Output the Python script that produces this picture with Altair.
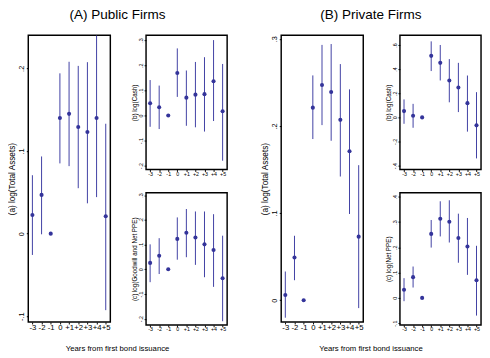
import altair as alt
import pandas as pd

periods = [-3, -2, -1, 0, 1, 2, 3, 4, 5]

# (A) Public firms
pub_assets = [0.0226, 0.0469, 0.0, 0.140, 0.145, 0.129, 0.123, 0.140, 0.0211]
pub_assets_lo = [-0.0258, -0.0008, None, 0.085, 0.0817, 0.055, 0.0367, 0.0442, -0.0926]
pub_assets_hi = [0.0707, 0.0934, None, 0.194, 0.208, 0.203, 0.2075, 0.240, 0.133]

pub_cash = [0.049, 0.033, 0.0, 0.169, 0.071, 0.083, 0.085, 0.136, 0.017]
pub_cash_lo = [-0.045, -0.054, None, 0.074, -0.041, -0.047, -0.064, -0.022, -0.180]
pub_cash_hi = [0.141, 0.119, None, 0.267, 0.179, 0.213, 0.232, 0.300, 0.205]

pub_ppe = [0.026, 0.055, 0.0, 0.123, 0.148, 0.129, 0.101, 0.078, -0.036]
pub_ppe_lo = [-0.052, -0.019, None, 0.039, 0.049, 0.018, -0.032, -0.071, -0.210]
pub_ppe_hi = [0.101, 0.126, None, 0.210, 0.244, 0.234, 0.234, 0.223, 0.136]

# (B) Private firms
prv_assets = [0.006, 0.049, 0.0, 0.221, 0.247, 0.239, 0.207, 0.171, 0.073]
prv_assets_lo = [-0.020, 0.023, None, 0.185, 0.201, 0.183, 0.142, 0.099, -0.009]
prv_assets_hi = [0.033, 0.074, None, 0.258, 0.293, 0.294, 0.271, 0.242, 0.155]

prv_cash = [0.052, 0.013, 0.0, 0.510, 0.452, 0.306, 0.248, 0.118, -0.066]
prv_cash_lo = [-0.053, -0.086, None, 0.384, 0.306, 0.125, 0.044, -0.118, -0.340]
prv_cash_hi = [0.149, 0.112, None, 0.630, 0.600, 0.483, 0.452, 0.347, 0.209]

prv_ppe = [0.032, 0.082, 0.0, 0.253, 0.313, 0.301, 0.237, 0.203, 0.070]
prv_ppe_lo = [-0.013, 0.041, None, 0.199, 0.243, 0.219, 0.139, 0.091, -0.070]
prv_ppe_hi = [0.078, 0.124, None, 0.308, 0.382, 0.386, 0.333, 0.316, 0.206]

FONT = "Liberation Sans"
DOT = "#34349a"
LINE = "#3c3ca2"

Y_LABEL = ("datum.value == 0 ? '0' : (datum.value < 0 ? '-' : '') + "
           "replace(format(abs(datum.value), '.1f'), '0.', '.')")
X_LABEL = "datum.value > 0 ? '+' + datum.value : '' + datum.value"


def panel(est, lo, hi, ytitle, domain, ticks, w, h, big):
    df = pd.DataFrame({"t": periods, "b": est, "lo": lo, "hi": hi})
    lab = 7.5 if big else 5.5
    xlab = 8 if big else 5.5
    tfs = 8.5 if big else 6.5
    xax = alt.Axis(values=periods, labelExpr=X_LABEL, title=None, grid=False,
                   domain=False, tickSize=2, labelPadding=0, labelFontSize=xlab,
                   labelFlush=False, labelOverlap=False)
    yax = alt.Axis(values=ticks, labelExpr=Y_LABEL, title=ytitle, grid=False,
                   domain=False, tickSize=2, labelPadding=1, labelFontSize=lab,
                   labelAngle=270, labelAlign="center", labelBaseline="bottom",
                   titleFontSize=tfs, titlePadding=1 if big else 0.5,
                   labelFlush=False, labelOverlap=False)
    xs = alt.Scale(domain=[-3.45, 5.5], nice=False, zero=False)
    ys = alt.Scale(domain=domain, nice=False, zero=False)
    rules = alt.Chart(df).mark_rule(color=LINE, strokeWidth=1, clip=True).encode(
        x=alt.X("t:Q", scale=xs, axis=xax),
        y=alt.Y("lo:Q", scale=ys, axis=yax),
        y2="hi:Q",
    )
    pts = alt.Chart(df).mark_circle(color=DOT, size=18, opacity=1, clip=True).encode(
        x=alt.X("t:Q", scale=xs, axis=xax),
        y=alt.Y("b:Q", scale=ys, axis=yax),
    )
    return alt.layer(rules, pts).properties(width=w, height=h)


BIG_W, BIG_H = 85, 297
SM_W, SM_B_H, SM_C_H = 84, 139, 137

pubA = panel(pub_assets, pub_assets_lo, pub_assets_hi, "(a) log(Total Assets)",
             [-0.107, 0.240], [-0.1, 0, 0.1, 0.2], BIG_W, BIG_H, True)
pubB = panel(pub_cash, pub_cash_lo, pub_cash_hi, "(b) log(Cash)",
             [-0.215, 0.319], [-0.2, -0.1, 0, 0.1, 0.2, 0.3], SM_W, SM_B_H, False)
pubC = panel(pub_ppe, pub_ppe_lo, pub_ppe_hi, "(c) log(Goodwill and Net PPE)",
             [-0.225, 0.31], [-0.2, -0.1, 0, 0.1, 0.2, 0.3], SM_W, SM_C_H, False)

prvA = panel(prv_assets, prv_assets_lo, prv_assets_hi, "(a) log(Total Assets)",
             [-0.025, 0.304], [0, 0.1, 0.2, 0.3], BIG_W, BIG_H, True)
prvB = panel(prv_cash, prv_cash_lo, prv_cash_hi, "(b) log(Cash)",
             [-0.432, 0.68], [-0.4, -0.2, 0, 0.2, 0.4, 0.6], SM_W, SM_B_H, False)
prvC = panel(prv_ppe, prv_ppe_lo, prv_ppe_hi, "(c) log(Net PPE)",
             [-0.107, 0.416], [-0.1, 0, 0.1, 0.2, 0.3, 0.4], SM_W, SM_C_H, False)


def group(big, b, c, title, inner_spacing):
    inner = alt.hconcat(big, alt.vconcat(b, c, spacing=14),
                        spacing=inner_spacing).properties(
        title=alt.TitleParams("Years from first bond issuance", orient="bottom",
                              anchor="middle", fontSize=8, offset=13, font=FONT,
                              fontWeight="normal", color="black"))
    return alt.vconcat(inner).properties(
        title=alt.TitleParams(title, anchor="middle", fontSize=14, offset=10,
                              dy=-3, font=FONT, fontWeight="normal",
                              color="black"))


chart = alt.hconcat(
    group(pubA, pubB, pubC, "(A) Public Firms", 20),
    group(prvA, prvB, prvC, "(B) Private Firms", 21),
    spacing=33,
).properties(
    padding={"left": -1, "top": -6, "right": 0, "bottom": 0},
    background="white",
).configure_view(
    stroke="black", strokeWidth=1.5
).configure_axis(
    labelFont=FONT, titleFont=FONT, labelColor="black", titleColor="black",
    tickColor="black", titleFontWeight="normal"
)

chart.save("out.html", embed_options={"renderer": "svg", "actions": False})
